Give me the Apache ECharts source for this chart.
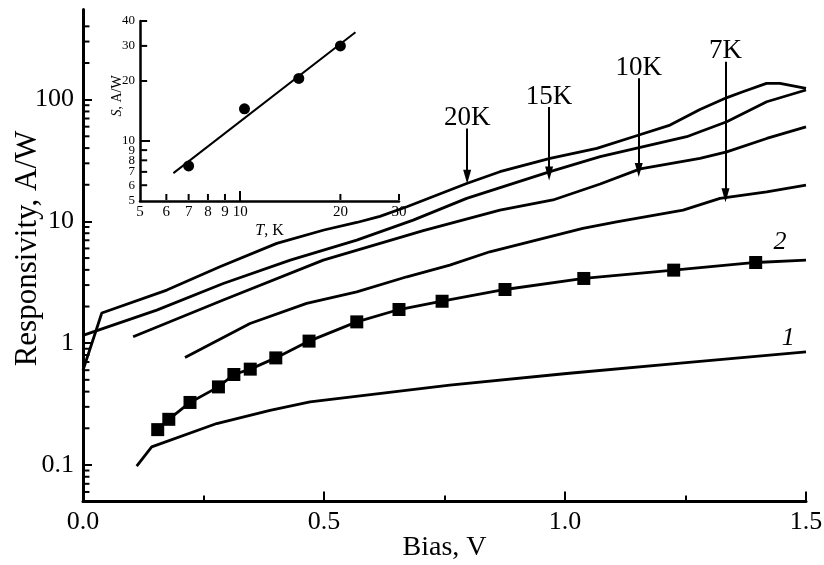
<!DOCTYPE html>
<html>
<head>
<meta charset="utf-8">
<script src="https://cdn.jsdelivr.net/npm/echarts@6/dist/echarts.min.js"></script>
<style>
  html, body { margin: 0; padding: 0; background: #fff; }
  #chart { width: 824px; height: 565px; }
</style>
</head>
<body>
<div id="chart"></div>
<script>
// main plot: responsivity vs bias, [bias V, A/W]
const curve20K = [[0.0, 0.60], [0.039, 1.77], [0.174, 2.73], [0.284, 4.24], [0.402, 6.6], [0.50, 8.5], [0.568, 9.8], [0.616, 11.0], [0.672, 13.2], [0.796, 20.5], [0.865, 25.6], [0.969, 32.9], [1.066, 39.8], [1.142, 49.6], [1.218, 61.8], [1.28, 83], [1.336, 104], [1.369, 116], [1.418, 136], [1.446, 136], [1.50, 124]];
const curve15K = [[0.0, 1.16], [0.153, 1.87], [0.291, 3.09], [0.43, 4.81], [0.568, 7.02], [0.685, 10.25], [0.796, 15.45], [0.969, 25.6], [1.073, 34.0], [1.2525, 49.6], [1.28, 54.5], [1.3355, 65.8], [1.4185, 96.1], [1.50, 120]];
const curve10K = [[0.104, 1.13], [0.291, 2.26], [0.4985, 4.81], [0.706, 8.4], [0.865, 12.4], [0.975, 15.0], [1.073, 20.3], [1.156, 27.0], [1.28, 33.0], [1.3355, 37.2], [1.4185, 48.0], [1.50, 59.8]];
const curve7K = [[0.2116, 0.763], [0.3465, 1.45], [0.464, 2.12], [0.568, 2.64], [0.672, 3.51], [0.761, 4.37], [0.844, 5.63], [1.037, 8.76], [1.107, 9.92], [1.245, 12.4], [1.3216, 15.45], [1.4185, 17.5], [1.50, 19.9]];
const curve2 = [[0.155, 0.195], [0.178, 0.237], [0.222, 0.326], [0.281, 0.4375], [0.313, 0.553], [0.347, 0.612], [0.400, 0.757], [0.469, 1.04], [0.568, 1.496], [0.6556, 1.89], [0.745, 2.21], [0.8755, 2.76], [1.039, 3.40], [1.2255, 3.98], [1.3956, 4.60]];
const curve2End = [1.50, 4.81];
const curve1 = [[0.1114, 0.0976], [0.1425, 0.1406], [0.2774, 0.2188], [0.388, 0.281], [0.471, 0.3296], [0.761, 0.452], [1.0035, 0.5636], [1.2454, 0.689], [1.50, 0.848]];

// curve numbers
const curveLabels = [['2', 1.446, 6.76], ['1', 1.463, 1.1]];

// temperature arrows: label, bias, top, tip
const arrowNames = ['20K', '15K', '10K', '7K'];
const arrowBias = [0.797, 0.967, 1.153, 1.333];
const arrowTop = [58, 87, 150, 205];
const arrowTip = [23.3, 24.8, 26.4, 16.4];

// inset: S vs T
const insetT = [7, 10.3, 15, 20];
const insetS = [7.5, 14.5, 20.6, 30];
const insetFit = [[6.3, 6.9], [22.2, 35.1]];

// tick values
const mainYTicks = [0.1, 1, 10, 100];
const mainYMinor = [0.06, 0.07, 0.08, 0.09, 0.2, 0.3, 0.4, 0.5, 0.6, 0.7, 0.8, 0.9, 2, 3, 4, 5, 6, 7, 8, 9, 20, 30, 40, 50, 60, 70, 80, 90, 200, 300, 400];
const insetXLabels = [5, 6, 7, 8, 9, 10, 20, 30];
const insetXTicks = [10];
const insetXMinor = [6, 7, 8, 9, 20, 30];
const insetYLabels = [5, 6, 7, 8, 9, 10, 20, 30, 40];
const insetYTicks = [10];
const insetYMinor = [6, 7, 8, 9, 20, 30, 40];

const serif = 'Liberation Serif';
const black = '#000';

const lineSeries = (data) => ({
    type: 'line',
    xAxisIndex: 0,
    yAxisIndex: 0,
    data: data,
    showSymbol: false,
    symbol: 'none',
    lineStyle: { color: black, width: 2.8 },
    z: 3
});

// short log ticks as thin rect marks sitting on the axis line
const minorTicks = (gridIdx, values, vertical, origin, len) => ({
    type: 'scatter',
    xAxisIndex: gridIdx,
    yAxisIndex: gridIdx,
    data: values.map(v => (vertical ? [v, origin] : [origin, v])),
    symbol: 'rect',
    symbolSize: vertical ? [2, len] : [len, 2],
    symbolOffset: vertical ? [0, -(len / 2)] : [len / 2, 0],
    itemStyle: { color: black, opacity: 1 },
    z: 5
});

const arrowLines = arrowNames.map((name, i) => [
    { coord: [arrowBias[i], arrowTop[i]], name: name },
    { coord: [arrowBias[i], arrowTip[i]] }
]);

const option = {
    animation: false,
    backgroundColor: '#fff',
    grid: [
        { left: 83, right: 18, top: 9.5, bottom: 63.4, outerBoundsMode: 'none' },
        { left: 140, right: 425, top: 21, bottom: 364, outerBoundsMode: 'none' }
    ],
    xAxis: [
        {
            gridIndex: 0,
            type: 'value',
            min: 0,
            max: 1.5,
            interval: 0.5,
            name: 'Bias, V',
            nameLocation: 'middle',
            nameGap: 32,
            nameMoveOverlap: false,
            nameTextStyle: { fontFamily: serif, fontSize: 28, color: black },
            axisLine: { lineStyle: { color: black, width: 3 } },
            axisTick: { inside: true, length: 10, lineStyle: { color: black, width: 2 } },
            minorTick: { show: true, splitNumber: 2, length: 6, lineStyle: { color: black, width: 2 } },
            splitLine: { show: false },
            axisLabel: {
                formatter: v => v.toFixed(1),
                fontFamily: serif, fontSize: 26, color: black, margin: 8
            }
        },
        {
            gridIndex: 1,
            type: 'log',
            min: 5,
            max: 30,
            name: '{i|T}, K',
            nameLocation: 'middle',
            nameGap: 22,
            nameMoveOverlap: false,
            nameTextStyle: {
                fontFamily: serif, fontSize: 16, color: black,
                rich: { i: { fontFamily: serif, fontSize: 16, fontStyle: 'italic', color: black } }
            },
            axisLine: { lineStyle: { color: black, width: 2.5 } },
            axisTick: { inside: true, length: 10, customValues: insetXTicks, lineStyle: { color: black, width: 2 } },
            splitLine: { show: false },
            axisLabel: {
                customValues: insetXLabels,
                formatter: v => String(Math.round(v)),
                fontFamily: serif, fontSize: 15, color: black, margin: 4
            }
        }
    ],
    yAxis: [
        {
            gridIndex: 0,
            type: 'log',
            logBase: 10,
            min: 0.05,
            max: 550,
            name: 'Responsivity, A/W',
            nameLocation: 'middle',
            nameGap: 40,
            nameMoveOverlap: false,
            nameTextStyle: { fontFamily: serif, fontSize: 31, color: black, padding: [0, 0, 0, 14] },
            axisLine: { lineStyle: { color: black, width: 3 } },
            axisTick: { inside: true, length: 9, customValues: mainYTicks, lineStyle: { color: black, width: 2 } },
            splitLine: { show: false },
            axisLabel: {
                customValues: mainYTicks,
                formatter: v => (v < 1 ? v.toFixed(1) : String(Math.round(v))),
                fontFamily: serif, fontSize: 26, color: black, margin: 9
            }
        },
        {
            gridIndex: 1,
            type: 'log',
            logBase: 10,
            min: 5,
            max: 40,
            name: '{i|S}, A/W',
            nameLocation: 'middle',
            nameGap: 16,
            nameMoveOverlap: false,
            nameTextStyle: {
                fontFamily: serif, fontSize: 14, color: black, padding: [0, 0, 0, 30],
                rich: { i: { fontFamily: serif, fontSize: 14, fontStyle: 'italic', color: black } }
            },
            axisLine: { lineStyle: { color: black, width: 2.5 } },
            axisTick: { inside: true, length: 10, customValues: insetYTicks, lineStyle: { color: black, width: 2 } },
            splitLine: { show: false },
            axisLabel: {
                customValues: insetYLabels,
                formatter: v => String(Math.round(v)),
                fontFamily: serif, fontSize: 13, color: black, margin: 5
            }
        }
    ],
    series: [
        Object.assign(lineSeries(curve20K), {
            markLine: {
                silent: true,
                symbol: ['none', 'triangle'],
                symbolSize: [8, 14],
                lineStyle: { color: black, width: 2, type: 'solid' },
                label: {
                    show: true,
                    position: 'start',
                    formatter: p => p.name,
                    fontFamily: serif, fontSize: 27, color: black, distance: -3
                },
                data: arrowLines
            }
        }),
        lineSeries(curve15K),
        lineSeries(curve10K),
        lineSeries(curve7K),
        lineSeries(curve2.concat([curve2End])),
        {
            type: 'scatter',
            xAxisIndex: 0,
            yAxisIndex: 0,
            data: curve2,
            symbol: 'rect',
            symbolSize: 13,
            itemStyle: { color: black, opacity: 1 },
            z: 4
        },
        lineSeries(curve1),
        {
            type: 'scatter',
            xAxisIndex: 0,
            yAxisIndex: 0,
            data: curveLabels.map(c => ({ name: c[0], value: [c[1], c[2]] })),
            symbolSize: 1,
            itemStyle: { color: 'rgba(0,0,0,0)', opacity: 1 },
            label: {
                show: true,
                position: 'inside',
                formatter: p => p.name,
                fontFamily: serif, fontSize: 26, fontStyle: 'italic', color: black, opacity: 1
            }
        },
        minorTicks(0, mainYMinor, false, 0.003, 5),
        {
            type: 'line',
            xAxisIndex: 1,
            yAxisIndex: 1,
            data: insetFit,
            showSymbol: false,
            symbol: 'none',
            lineStyle: { color: black, width: 2 }
        },
        {
            type: 'scatter',
            xAxisIndex: 1,
            yAxisIndex: 1,
            data: insetT.map((t, i) => [t, insetS[i]]),
            symbol: 'circle',
            symbolSize: 11,
            itemStyle: { color: black, opacity: 1 }
        },
        minorTicks(1, insetXMinor, true, 5.06, 6),
        minorTicks(1, insetYMinor, false, 5.04, 6)
    ]
};

const chart = echarts.init(document.getElementById('chart'), null, { renderer: 'canvas' });
chart.setOption(option);
</script>
</body>
</html>
